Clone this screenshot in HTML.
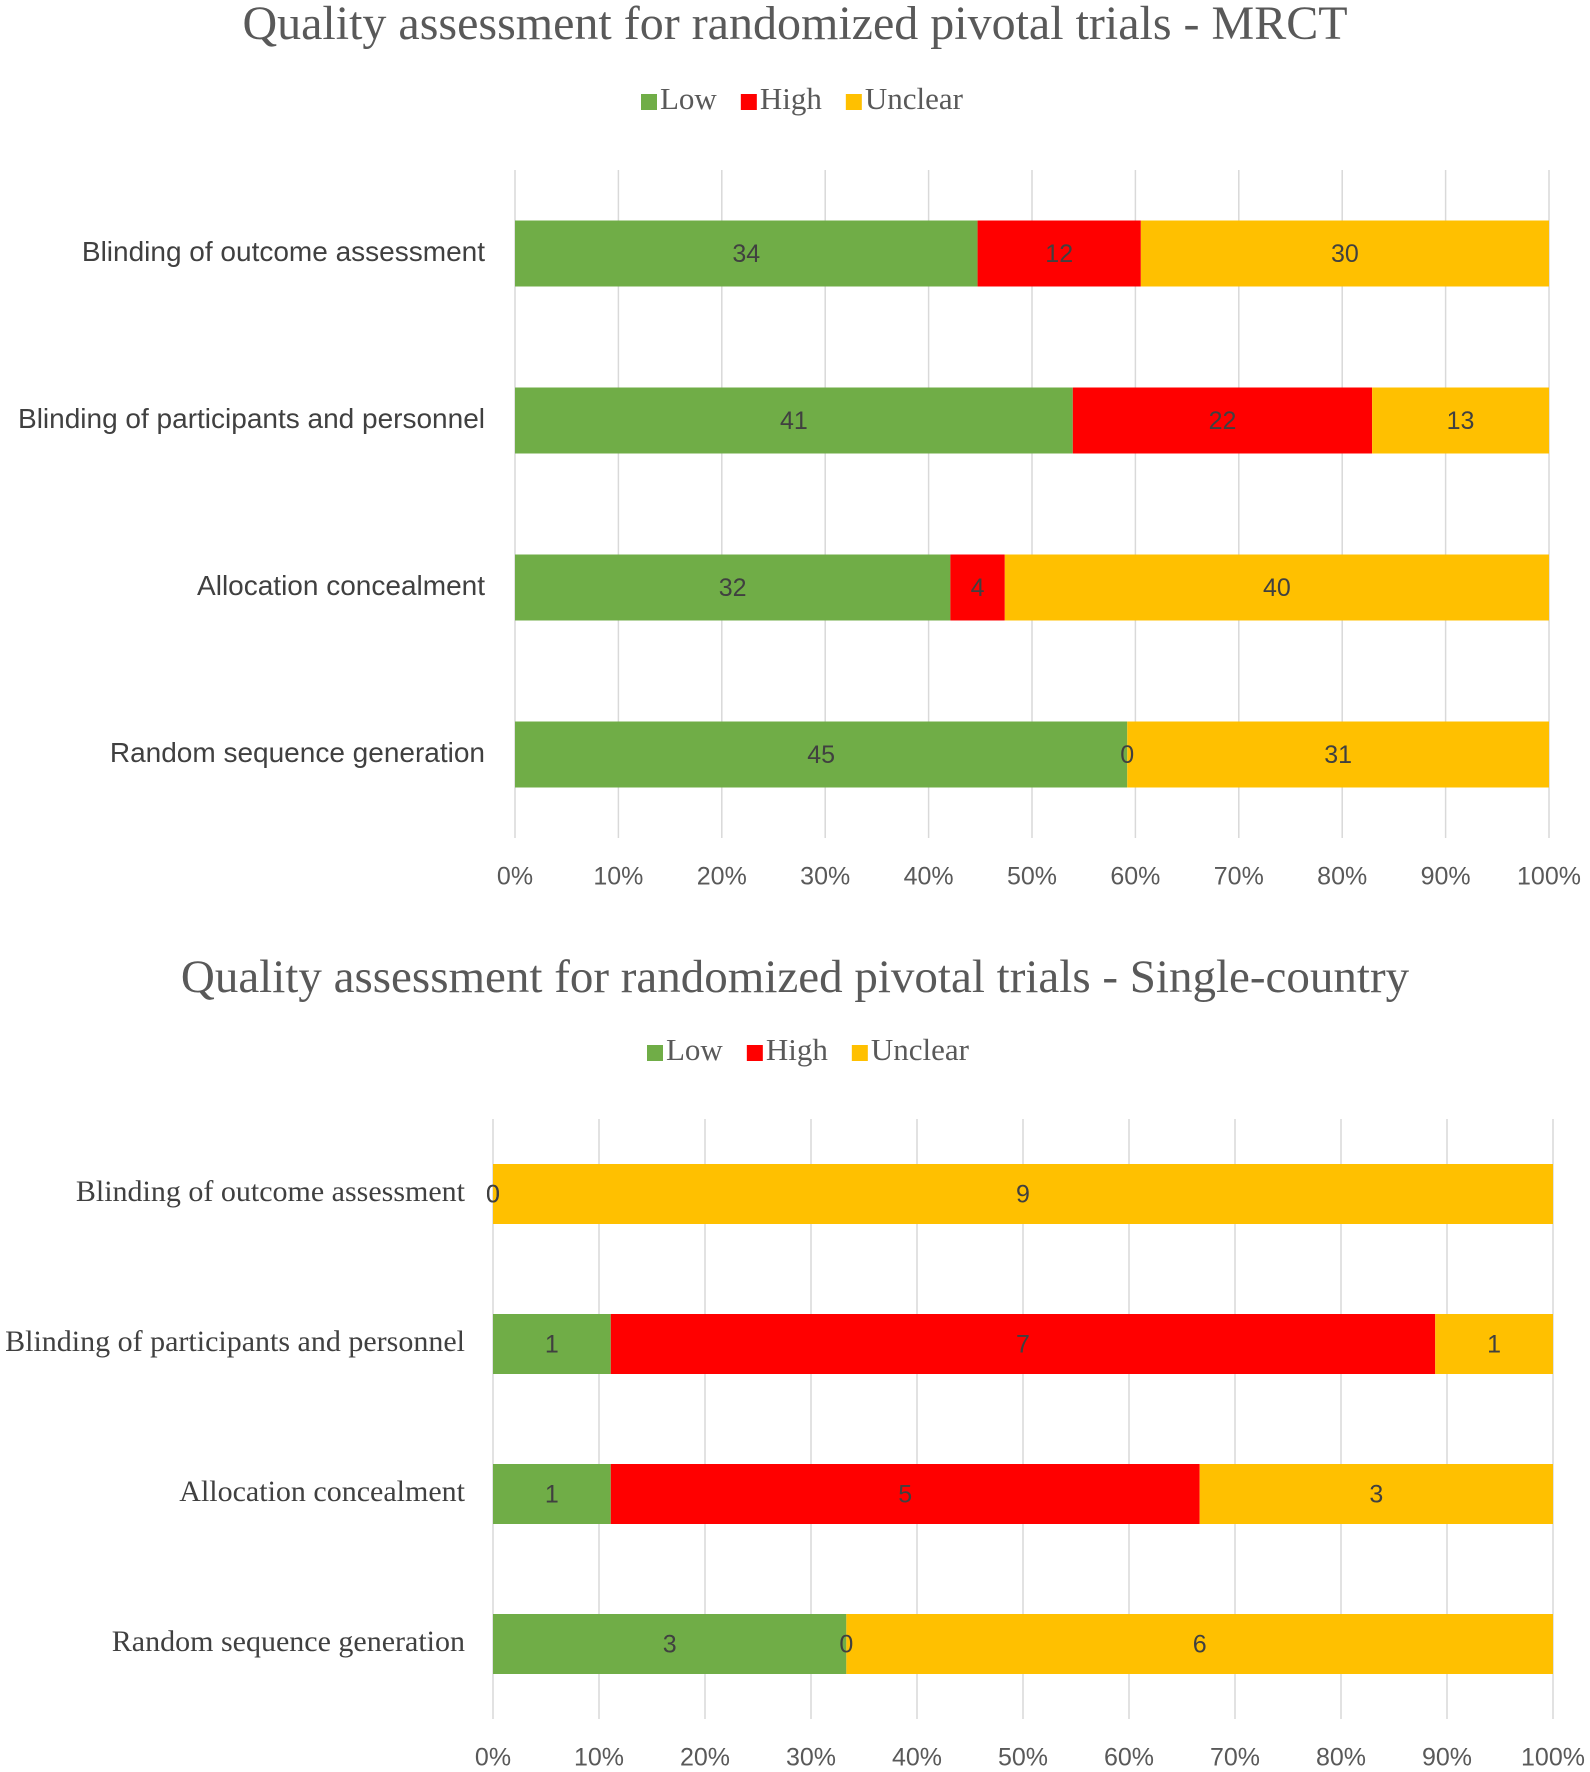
<!DOCTYPE html>
<html><head><meta charset="utf-8"><style>
html,body{margin:0;padding:0;background:#fff;}
svg{display:block;}
</style></head><body>
<svg id="chart" width="1590" height="1772" viewBox="0 0 1590 1772" xmlns="http://www.w3.org/2000/svg"></svg>
<script>
const categories = ["Blinding of outcome assessment","Blinding of participants and personnel","Allocation concealment","Random sequence generation"];
const series = ["Low","High","Unclear"];
const mrctLow = [34,41,32,45];
const mrctHigh = [12,22,4,0];
const mrctUnclear = [30,13,40,31];
const scLow = [0,1,1,3];
const scHigh = [0,7,5,0];
const scUnclear = [9,1,3,6];
const tickLabels = ["0%","10%","20%","30%","40%","50%","60%","70%","80%","90%","100%"];
const colors = ["#70AD47","#FF0000","#FFC000"];
const svg = document.getElementById('chart');
const NS = "http://www.w3.org/2000/svg";
function mk(tag, attrs, parent){const e=document.createElementNS(NS,tag);for(const k in attrs)e.setAttribute(k,attrs[k]);(parent||svg).appendChild(e);return e;}

function drawChart(cfg){
  const g = mk('g',{});
  
  
  const xs = p => cfg.x0 + (cfg.x1 - cfg.x0) * p;
  const t = mk('text',{x:795,y:cfg.titleY,'text-anchor':'middle','dominant-baseline':'middle','font-family':'"Liberation Serif",serif','font-size':cfg.titleSize,fill:'#595959'},g);
  t.textContent = cfg.title;
  
  
  // legend
  let lx = cfg.legendX;
  series.forEach((s,i)=>{
    const r = mk('rect',{x:lx,y:cfg.legendY-8,width:16,height:16,fill:colors[i]},g);
    
    
    const lt = mk('text',{x:lx+19,y:cfg.legendY,'dominant-baseline':'middle','font-family':'"Liberation Serif",serif','font-size':31,fill:'#595959'},g);
    lt.textContent = s;
    
    
    lx += 19 + lt.getComputedTextLength() + 24;
  });
  // grid
  tickLabels.forEach((tl,i)=>{
    const x = xs(i/10);
    const l = mk('line',{x1:x,x2:x,y1:cfg.gridTop,y2:cfg.gridBottom,stroke:'#d9d9d9','stroke-width':1.5},g);
    
    
    const tt = mk('text',{x:x,y:cfg.tickY,'text-anchor':'middle','dominant-baseline':'middle','font-family':cfg.tickFont,'font-size':25,fill:'#595959'},g);
    tt.textContent = tl;
    
    
  });
  const band = (cfg.gridBottom - cfg.gridTop) / categories.length;
  const labels = [];
  categories.forEach((c,ci)=>{
    const cy = cfg.gridTop + band*(ci+0.5);
    const ct = mk('text',{x:cfg.labelRight,y:cy,'text-anchor':'end','dominant-baseline':'middle','font-family':cfg.labelFont,'font-size':cfg.labelSize,fill:'#404040'},g);
    ct.textContent = c;
    
    
    const vals = [cfg.low[ci], cfg.high[ci], cfg.unclear[ci]];
    const total = vals[0]+vals[1]+vals[2];
    let acc = 0;
    vals.forEach((v,si)=>{
      const xa = xs(acc/total), xb = xs((acc+v)/total);
      const r = mk('rect',{x:xa,y:cy-cfg.barH/2,width:Math.max(0,xb-xa),height:cfg.barH,fill:colors[si]},g);
      
      
      labels.push([(xa+xb)/2, cy, v]);
      acc += v;
    });
  });
  labels.forEach(([x,y,v])=>{
    const vt = mk('text',{x:x,y:y+2,'text-anchor':'middle','dominant-baseline':'middle','font-family':'"Liberation Sans",sans-serif','font-size':25,fill:'#404040'},g);
    vt.textContent = v;
    
    
  });
}
drawChart({name:'mrct-chart',title:'Quality assessment for randomized pivotal trials - MRCT',titleY:28,titleSize:48,legendX:641,legendY:102,
  x0:515,x1:1549,gridTop:170,gridBottom:838,tickY:878,barH:66,labelRight:485,labelFont:'"Liberation Sans",sans-serif',labelSize:28,tickFont:'"Liberation Sans",sans-serif',
  low:mrctLow,high:mrctHigh,unclear:mrctUnclear});
drawChart({name:'single-country-chart',title:'Quality assessment for randomized pivotal trials - Single-country',titleY:981,titleSize:47,legendX:647,legendY:1053,
  x0:493,x1:1553,gridTop:1119,gridBottom:1719,tickY:1759,barH:60,labelRight:465,labelFont:'"Liberation Serif",serif',labelSize:30,tickFont:'"Liberation Sans",sans-serif',
  low:scLow,high:scHigh,unclear:scUnclear});
</script>
</body></html>
